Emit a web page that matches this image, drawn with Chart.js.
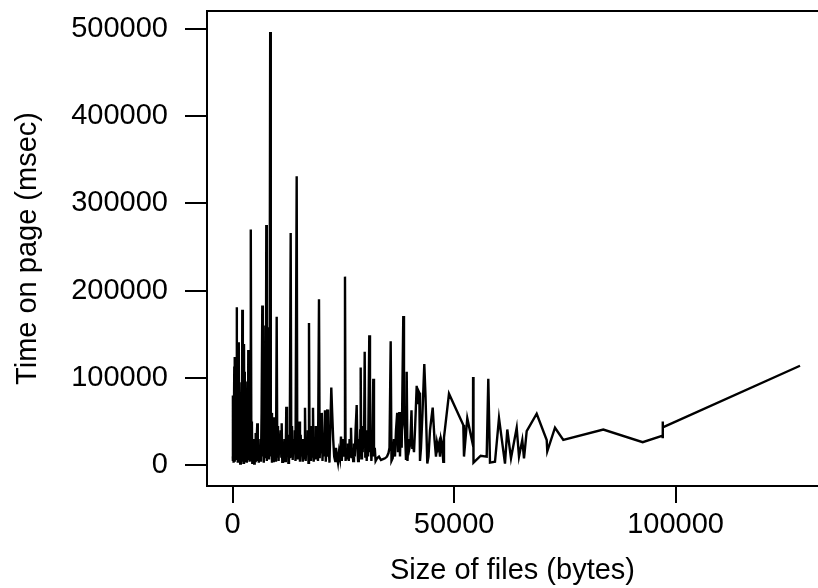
<!DOCTYPE html>
<html>
<head>
<meta charset="utf-8">
<script src="https://cdn.jsdelivr.net/npm/chart.js@4"></script>
<style>
  html, body { margin: 0; padding: 0; background: #fff; }
  #wrap { width: 818px; height: 588px; }
</style>
</head>
<body>
<div id="wrap"><canvas id="plot" width="818" height="588"></canvas></div>
<script>
// file size (bytes) for each page, sorted
const sizes = [
  20, 40, 60, 90, 135, 203, 271, 361, 429, 497, 565, 632, 700, 790, 903, 971,
  1061, 1152, 1264, 1332, 1423, 1513, 1603, 1694, 1784, 1874, 1987, 2077, 2168, 2258,
  2326, 2439, 2552, 2642, 2732, 2823, 2935, 3026, 3139, 3229, 3342, 3432, 3522, 3613,
  3726, 3816, 3929, 4042, 4132, 4222, 4335, 4426, 4539, 4629, 4742, 4855, 4968, 5081,
  5193, 5306, 5419, 5555, 5668, 5780, 5893,
  6006, 6119, 6255, 6390, 6526, 6684, 6797, 6909, 7022, 7135, 7248, 7361, 7474, 7587,
  7700, 7813, 7926, 8038, 8197, 8309, 8468, 8603, 8738, 8874, 9009, 9145, 9280, 9393,
  9506, 9642, 9777, 9935, 10071, 10229, 10364, 10522, 10680, 10838, 10974, 11064, 11200,
  11358, 11538, 11696, 11854, 11990, 12103, 12261, 12419, 12577, 12712, 12871, 13096,
  13232, 13390, 13548, 13706, 13864, 14022, 14180, 14451, 14587, 14745, 14880, 15038, 15196,
  15354, 15512, 15670, 15828, 15986, 16145, 16325, 16483, 16641, 16799, 16957, 17116,
  17229, 17364, 17522, 17680, 17838, 17996, 18132, 18290, 18448, 18606, 18764, 18922,
  19080, 19261, 19487, 19645, 19803, 19961, 20119, 20277, 20435, 20615, 20841, 21022,
  21203, 21361, 21519, 21677, 21857, 22038, 22264, 22467, 22693, 22919, 23145, 23325,
  23551, 23777, 24003, 24229, 24454, 24635, 24815, 24996, 25177, 25357, 25493,
  25673, 25854, 26035, 26215, 26396, 26554, 26712, 26893, 27051, 27209, 27390, 27570,
  27751, 27999, 28157, 28315, 28474, 28632, 28790, 28902, 29038, 29196, 29354, 29512,
  29648, 29806, 29941, 30099, 30257, 30415, 30573, 30844, 31002, 31160, 31318, 31499,
  31748, 31906, 32086, 32267, 32583, 33035, 33486, 33938, 34389, 34841, 35180, 35405,
  35676, 35857,
  36128, 36421, 36647, 36873, 37144, 37324, 37618, 37776, 38002, 38160, 38521, 38679,
  38905, 39131, 39289, 39469, 39695, 39921, 40102, 40373, 40553, 40711, 40937, 41163,
  41547, 41728, 41954, 42134, 42293, 42518, 42857, 43264, 43535, 43941, 44212, 44551,
  44777, 45160, 45341, 45567, 45905, 46131, 46357, 46583, 46809, 47034, 47260, 47554,
  47712, 48841, 52070, 52228, 52973, 54260, 54283, 54373, 55999, 57353, 57714, 58098,
  59227, 60130, 61485, 62004, 62840, 64127, 64646, 65391, 65775, 66385, 68643, 70901,
  71036, 72775, 74649, 83681, 92578, 97094, 97100, 97110, 97120, 128100
];

// time on page (msec), same order as sizes
const times = [
  10000, 80000, 5000, 40000, 3000, 60000, 8000, 113000, 4000, 124000, 20000, 60000, 6000, 45000, 181000, 10000,
  90000, 3000, 141000, 15000, 120000, 5000, 50000, 2000, 30000, 8000, 95000, 4000, 178000, 12000,
  80000, 3000, 139000, 20000, 107000, 5000, 96000, 10000, 40000, 3000, 25000, 6000, 132000, 15000,
  60000, 4000, 45000, 8000, 270000, 6000, 50000, 3000, 20000, 7000, 30000, 2000, 15000, 5000,
  37000, 8000, 30000, 48000, 5000, 20000, 3000,
  15000, 5000, 30000, 4000, 60000, 183000, 10000, 100000, 3000, 50000, 8000, 160000, 15000, 275000,
  5000, 120000, 30000, 8000, 158000, 20000, 496000, 10000, 60000, 3000, 35000, 5000, 25000, 55000,
  8000, 20000, 4000, 170000, 10000, 45000, 5000, 30000, 20000, 40000, 10000, 48000, 4000,
  25000, 8000, 30000, 5000, 20000, 67000, 10000, 35000, 3000, 25000, 8000, 266000,
  10000, 45000, 6000, 30000, 15000, 40000, 5000, 331000, 8000, 40000, 15000, 50000, 4000,
  35000, 10000, 30000, 4000, 25000, 8000, 66000, 5000, 30000, 15000, 40000, 3000,
  163000, 10000, 45000, 5000, 30000, 10000, 66000, 4000, 20000, 8000, 45000, 12000,
  30000, 5000, 190000, 8000, 40000, 15000, 60000, 5000, 30000, 10000, 63000, 4000,
  30000, 64000, 10000, 20000, 3000, 40000, 89000, 60000, 30000, 10000, 5000, 20000,
  10000, 3000, 15000, 8000, 33000, 5000, 30000, 10000, 25000, 216000, 5000,
  20000, 8000, 25000, 5000, 30000, 10000, 43000, 8000, 20000, 5000, 25000, 10000,
  40000, 69000, 20000, 5000, 30000, 10000, 40000, 112000, 8000, 30000, 15000, 45000,
  20000, 130000, 10000, 40000, 5000, 30000, 10000, 149000, 15000, 30000, 5000, 25000,
  99000, 10000, 20000, 5000, 8000, 10000, 6000, 7000, 8000, 10000, 14000, 20000,
  142000, 5000,
  8000, 30000, 10000, 40000, 60000, 15000, 61000, 10000, 50000, 20000, 171000, 50000,
  40000, 6000, 107000, 5000, 30000, 20000, 25000, 63000, 20000, 25000, 15000, 40000,
  91000, 70000, 85000, 83000, 5000, 20000, 60000, 116000, 80000, 2000, 10000, 40000,
  50000, 66000, 50000, 30000, 10000, 26000, 20000, 25000, 10000, 30000, 25000, 4000,
  32000, 82000, 46000, 10000, 54000, 23000, 101000, 3000, 11000, 10000, 99000, 3000,
  4000, 54000, 2000, 41000, 8000, 43000, 10000, 29000, 8000, 39000, 59000, 29000,
  16000, 43000, 29000, 41000, 26500, 34000, 31000, 50000, 43500, 114000
];

const xTicks = [0, 50000, 100000];
const yTicks = [0, 100000, 200000, 300000, 400000, 500000];
const xLabel = "Size of files (bytes)";
const yLabel = "Time on page (msec)";

const points = sizes.map((s, i) => ({ x: s, y: times[i] }));
const font = { family: "'Liberation Sans', Arial, sans-serif", size: 29, lineHeight: 1.2 };

// R-style frame: left, top and bottom edges (right edge falls off the page)
const frame = {
  id: "frame",
  afterDatasetsDraw(chart) {
    const { ctx, chartArea: a } = chart;
    ctx.save();
    ctx.strokeStyle = "#000";
    ctx.lineWidth = 2;
    ctx.beginPath();
    ctx.moveTo(a.right + 10, a.top);
    ctx.lineTo(a.left, a.top);
    ctx.lineTo(a.left, a.bottom);
    ctx.lineTo(a.right + 10, a.bottom);
    ctx.stroke();
    ctx.restore();
  }
};

new Chart(document.getElementById("plot"), {
  type: "line",
  data: {
    datasets: [{
      data: points,
      borderColor: "#000",
      borderWidth: 2.4,
      pointRadius: 0,
      tension: 0,
      fill: false
    }]
  },
  options: {
    responsive: false,
    animation: false,
    devicePixelRatio: 1,
    layout: { padding: { left: 0, top: 11, right: 0, bottom: 0 } },
    plugins: { legend: { display: false }, tooltip: { enabled: false } },
    scales: {
      x: {
        type: "linear",
        min: -5800,
        max: 132160,
        afterBuildTicks: s => { s.ticks = xTicks.map(v => ({ value: v })); },
        afterFit: s => { s.height = 102; s.paddingLeft = 0; s.paddingRight = 0; },
        grid: { drawOnChartArea: false, drawTicks: true, tickLength: 17, color: "#000", lineWidth: 2 },
        border: { display: false },
        ticks: { color: "#000", font: font, padding: 5, maxRotation: 0, callback: v => String(v) },
        title: { display: true, text: xLabel, color: "#000", font: font, padding: { top: 0, bottom: 0 } }
      },
      y: {
        type: "linear",
        min: -23700,
        max: 520100,
        afterBuildTicks: s => { s.ticks = yTicks.map(v => ({ value: v })); },
        afterFit: s => { s.width = 207; s.paddingTop = 0; s.paddingBottom = 0; },
        grid: { drawOnChartArea: false, drawTicks: true, tickLength: 22, color: "#000", lineWidth: 2 },
        border: { display: false },
        ticks: { color: "#000", font: font, padding: 17, callback: v => String(v) },
        title: { display: true, text: yLabel, color: "#000", font: font, padding: { top: 11, bottom: 0 } }
      }
    }
  },
  plugins: [frame]
});
</script>
</body>
</html>
